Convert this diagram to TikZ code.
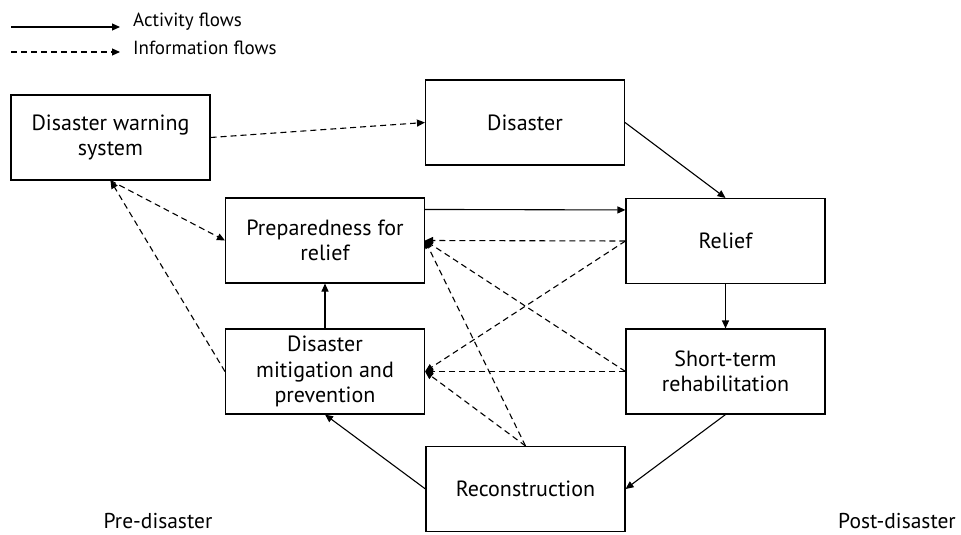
\documentclass[tikz,border=0pt]{standalone}
\usepackage{fontspec}
\setmainfont{PT Sans}
\usetikzlibrary{arrows.meta}
\begin{document}
\begin{tikzpicture}[x=1pt,y=-1pt,
  box/.style={draw, line width=1.1pt, minimum width=199pt, minimum height=85pt,
    align=center, inner sep=0pt, font=\fontsize{22}{25.5}\selectfont},
  lbl/.style={font=\fontsize{19}{22}\selectfont, inner sep=0pt},
  phase/.style={font=\fontsize{21.5}{24}\selectfont, inner sep=0pt},
  act/.style={line width=1.1pt, -{Triangle[length=8pt,width=7pt]}},
  info/.style={act, dash pattern=on 6pt off 4pt}]
\useasboundingbox (0,0) rectangle (961,535);

% process boxes
\node[box] (warn)   at (110.5,137.5) {Disaster warning\\system};
\node[box] (dis)    at (525,122.5)   {Disaster};
\node[box] (prep)   at (325,240.5)   {Preparedness for\\relief};
\node[box] (relief) at (725.5,241)   {Relief};
\node[box] (mitig)  at (325,371.5)   {Disaster\\mitigation and\\prevention};
\node[box] (short)  at (725.5,371.5) {Short-term\\rehabilitation};
\node[box] (recon)  at (525.5,489)   {Reconstruction};

% activity flows
\draw[act] (dis.east) -- (relief.north);
\draw[act] ([yshift=-12pt]prep.north east) -- ([yshift=-12pt]relief.north west);
\draw[act] (relief.south) -- (short.north);
\draw[act] (short.south) -- (recon.east);
\draw[act] (recon.west) -- (mitig.south);
\draw[act] (mitig.north) -- (prep.south);

% information flows
\draw[info] (warn.east) -- (dis.west);
\draw[info] (warn.south) -- (prep.west);
\draw[info] (mitig.west) -- (warn.south);
\draw[info] (relief.west) -- (prep.east);
\draw[info] (relief.west) -- (mitig.east);
\draw[info] (short.west) -- (mitig.east);
\draw[info] (short.west) -- (prep.east);
\draw[info] (recon.north) -- (prep.east);
\draw[info] (recon.north) -- (mitig.east);

% legend
\coordinate (la1) at (11,27);
\coordinate (la2) at (120,27);
\coordinate (lb1) at (11,52);
\coordinate (lb2) at (120,52);
\draw[act] (la1) -- (la2);
\draw[info] (lb1) -- (lb2);
\node[lbl, anchor=west] (lta) at (133,22) {Activity flows};
\node[lbl, anchor=west] (ltb) at (133,48) {Information flows};

% phase labels
\node[phase] (pre)  at (158,521) {Pre-disaster};
\node[phase] (post) at (897,521) {Post-disaster};
\end{tikzpicture}
\end{document}
